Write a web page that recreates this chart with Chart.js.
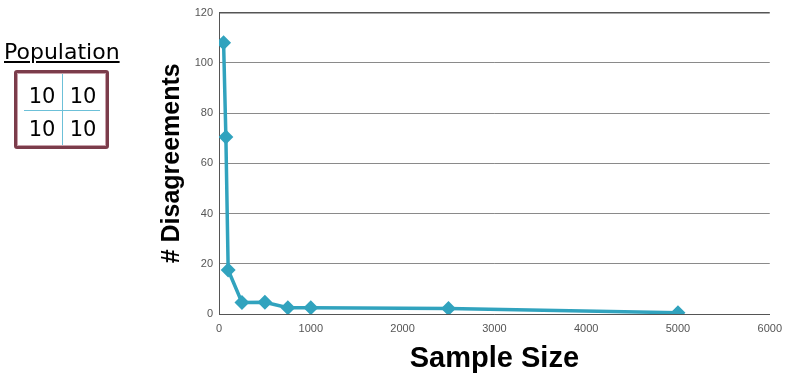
<!DOCTYPE html>
<html>
<head>
<meta charset="utf-8">
<script src="https://cdn.jsdelivr.net/npm/chart.js@4"></script>
<style>
  body { margin: 0; background: #fff; }
  #wrap { position: relative; width: 790px; height: 380px; }
  #pop { position: absolute; left: 4px; top: 39px; font-family: "DejaVu Sans", sans-serif; font-size: 22px; text-decoration: underline; color: #000; }
  #box { position: absolute; left: 14px; top: 70px; width: 89px; height: 73px; border: 3px solid #7b3c4b; border-radius: 3px; background: #fff; box-shadow: inset 0 0 0 1px #c9a0aa; }
  .vl { position: absolute; left: 45px; top: 1px; width: 1px; height: 71px; background: #6cc0d8; }
  .hl { position: absolute; left: 7px; top: 37px; width: 76px; height: 1px; background: #6cc0d8; }
  .n { position: absolute; width: 40px; text-align: center; font-family: "DejaVu Sans", sans-serif; font-size: 21px; line-height: 30px; color: #000; }
</style>
</head>
<body>
<div id="wrap">
  <canvas id="myChart" width="790" height="380"></canvas>
  <div id="pop">Population</div>
  <div id="box">
    <div class="vl"></div>
    <div class="hl"></div>
    <div class="n" style="left:5px;top:8px">10</div>
    <div class="n" style="left:46px;top:8px">10</div>
    <div class="n" style="left:5px;top:41px">10</div>
    <div class="n" style="left:46px;top:41px">10</div>
  </div>
</div>
<script>
const sampleSizes = [50, 75, 100, 250, 500, 750, 1000, 2500, 5000];
const disagreements = [108, 70.5, 17.5, 4.6, 4.7, 2.5, 2.5, 2.2, 0.5];
const xTicks = [0, 1000, 2000, 3000, 4000, 5000, 6000];
const yTicks = [0, 20, 40, 60, 80, 100, 120];

const ctx = document.getElementById('myChart').getContext('2d');
const myChart = new Chart(ctx, {
    type: 'line',
    data: {
        datasets: [{
            data: sampleSizes.map((s, i) => ({ x: s, y: disagreements[i] })),
            borderColor: '#31a3be',
            backgroundColor: '#31a3be',
            borderWidth: 3.5,
            pointStyle: 'rectRot',
            pointRadius: 5,
            fill: false,
            tension: 0
        }]
    },
    options: {
        responsive: false,
        animation: false,
        layout: { padding: { left: 150, right: 18, top: 10, bottom: 0 } },
        plugins: { legend: { display: false }, tooltip: { enabled: false } },
        scales: {
            x: {
                type: 'linear',
                min: 0,
                max: 6000,
                afterBuildTicks: (axis) => { axis.ticks = xTicks.map(v => ({ value: v })); },
                afterFit: (axis) => { axis.height = 66; },
                grid: { display: false, drawTicks: false },
                border: { display: true, color: '#555', width: 1 },
                ticks: { color: '#555', font: { family: 'Arial', size: 11 }, padding: 8, maxRotation: 0, callback: (v) => String(v) },
                title: {
                    display: true,
                    text: 'Sample Size',
                    color: '#000',
                    font: { family: 'Arial', size: 29, weight: 'bold' },
                    padding: { top: 0, bottom: 4 }
                }
            },
            y: {
                min: 0,
                max: 120,
                afterBuildTicks: (axis) => { axis.ticks = yTicks.map(v => ({ value: v })); },
                afterFit: (axis) => { axis.width = 69; },
                grid: {
                    color: (c) => c.tick && c.tick.value === 120 ? '#555' : '#8a8a8a',
                    lineWidth: (c) => c.tick && c.tick.value === 120 ? 1.5 : 1,
                    drawTicks: false
                },
                border: { display: true, color: '#555', width: 1 },
                ticks: { color: '#555', font: { family: 'Arial', size: 11 }, padding: 6, callback: (v) => String(v) },
                title: {
                    display: true,
                    text: '# Disagreements',
                    color: '#000',
                    font: { family: 'Arial', size: 25, weight: 'bold' },
                    padding: { top: 7, bottom: 0 }
                }
            }
        }
    }
});
</script>
</body>
</html>
